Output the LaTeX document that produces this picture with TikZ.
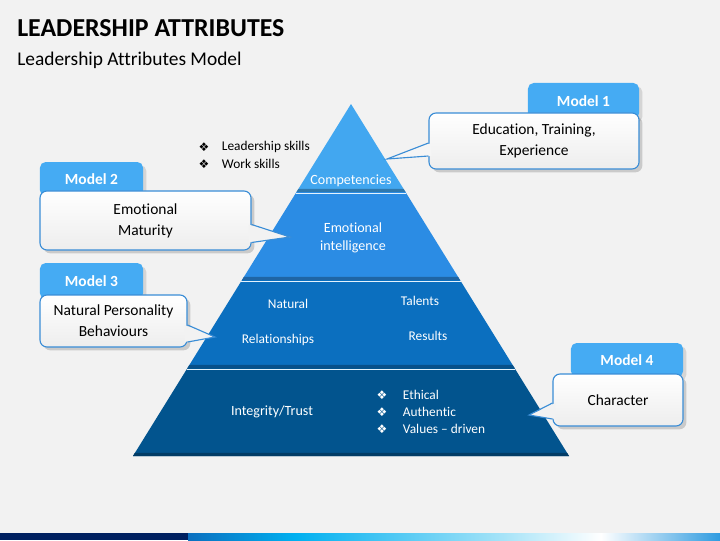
\documentclass[tikz,border=0pt]{standalone}
\usepackage{fontspec}
\setmainfont{Carlito}[Ligatures={TeX,NoCommon}]
\newfontfamily\symfont{DejaVu Sans}
\usetikzlibrary{calc,shadows}
\definecolor{pagebg}{HTML}{F2F2F2}
\definecolor{tabblue}{HTML}{45ABF3}
\definecolor{calloutblue}{HTML}{3A8DD6}
\definecolor{layA}{HTML}{42A7F0}
\definecolor{layB}{HTML}{2B8CE4}
\definecolor{layC}{HTML}{0B6FBF}
\definecolor{layD}{HTML}{02548E}
\definecolor{navy}{HTML}{002060}
\definecolor{barcyan}{HTML}{00B0F0}
\definecolor{barpale}{HTML}{A8E4F8}
\definecolor{barblue}{HTML}{2E9BE0}
\begin{document}
\begin{tikzpicture}[x=0.025cm, y=-0.025cm,
    modeltab/.style ={rounded corners=4pt, fill=tabblue, text=white,
      font=\fontsize{11}{13}\selectfont\bfseries, drop shadow={opacity=0.25}},
    modelbox/.style ={rounded corners=5pt, draw=calloutblue, line width=0.8pt,
      top color=white, bottom color=gray!14, align=center,
      font=\fontsize{11}{15}\selectfont, drop shadow={opacity=0.35}},
    pointer/.style ={draw=calloutblue, line width=0.8pt},
    laytext/.style ={text=white, align=center, font=\fontsize{10}{13}\selectfont},
    smalltext/.style ={anchor=west, font=\fontsize{9.5}{11}\selectfont},
    bulletmark/.style ={font=\symfont\fontsize{8.5}{9}\selectfont}]
   \fill[pagebg] (0,0) rectangle (720,540);
   \useasboundingbox (0,0) rectangle (720,540);
   % heading
   \node[anchor=base west, font=\fontsize{18.4}{20}\selectfont\bfseries, inner sep=0] (title) at (17,36) {LEADERSHIP ATTRIBUTES};
   \node[anchor=base west, font=\fontsize{13.8}{15}\selectfont, inner sep=0] (subtitle) at (17,65) {Leadership Attributes Model};
   % pyramid
   \coordinate (apex) at (351,104);
   \coordinate (bl) at (133,456);
   \coordinate (br) at (569,456);
   \foreach \a/\b/\col in {0/0.25/layA, 0.25/0.5/layB, 0.5/0.75/layC, 0.75/1/layD}{
     \fill[\col] ($(apex)!\a!(bl)$) -- ($(apex)!\b!(bl)$) -- ($(apex)!\b!(br)$) -- ($(apex)!\a!(br)$) -- cycle;
     \fill[\col!72!black] ($(apex)!{\b-0.009}!(bl)$) -- ($(apex)!\b!(bl)$) -- ($(apex)!\b!(br)$) -- ($(apex)!{\b-0.009}!(br)$) -- cycle;
   }
   \foreach \t in {0.25,0.5,0.75}
     \draw[white!85!layA, line width=0.7pt] ($(apex)!{\t+0.004}!(bl)$) -- ($(apex)!{\t+0.004}!(br)$);
   \node[laytext] (comp) at (351,181) {Competencies};
   \node[laytext] (emo) at (353,238) {Emotional\\intelligence};
   \node[laytext, font=\fontsize{9.5}{11}\selectfont] (nat) at (288,304) {Natural};
   \node[laytext, font=\fontsize{9.5}{11}\selectfont] (tal) at (420,301) {Talents};
   \node[laytext, font=\fontsize{9.5}{11}\selectfont] (rel) at (278,340) {Relationships};
   \node[laytext, font=\fontsize{9.5}{11}\selectfont] (res) at (428,336) {Results};
   \node[laytext] (integ) at (272,412) {Integrity/Trust};
   \foreach \t [count=\i] in {Ethical, Authentic, Values – driven}{
     \node[bulletmark, text=white] (vb\i) at (382,378+17*\i) {❖};
     \node[smalltext, text=white] (v\i) at (398,378+17*\i) {\t};
   }
   \foreach \t [count=\i] in {Leadership skills, Work skills}{
     \node[bulletmark] (sb\i) at (204,130+17*\i) {❖};
     \node[smalltext] (s\i) at (217,130+17*\i) {\t};
   }
   \coordinate (p1) at (387,159);
   \coordinate (p2) at (290,237);
   \coordinate (p3) at (215,337);
   \coordinate (p4) at (529,415);
   % Model 1
   \node[modeltab, minimum width=2.775cm, minimum height=0.9cm] (m1tab) at (583.5,101) {Model 1};
   \node[modelbox, minimum width=5.25cm, minimum height=1.4cm] (m1box) at (534,141) {Education, Training,\\Experience};
   \path (m1box.west) ++(0,2) coordinate (m1a) ++(0,13) coordinate (m1b);
   \fill[gray!8] ($(m1a)+(3,0)$) -- (p1) -- ($(m1b)+(3,0)$) -- cycle;
   \draw[pointer] (m1a) -- (p1) -- (m1b);
   % Model 2
   \node[modeltab, minimum width=2.575cm, minimum height=0.85cm] (m2tab) at (91.5,179) {Model 2};
   \node[modelbox, minimum width=5.275cm, minimum height=1.475cm] (m2box) at (145.5,220.5) {Emotional\\Maturity};
   \path (m2box.east) ++(0,4) coordinate (m2a) ++(0,18) coordinate (m2b);
   \fill[gray!10] ($(m2a)+(-3,0)$) -- (p2) -- ($(m2b)+(-3,0)$) -- cycle;
   \draw[pointer] (m2a) -- (p2) -- (m2b);
   % Model 3
   \node[modeltab, minimum width=2.575cm, minimum height=0.9cm] (m3tab) at (91.5,281) {Model 3};
   \node[modelbox, minimum width=3.675cm, minimum height=1.3cm] (m3box) at (113.5,321) {Natural Personality\\Behaviours};
   \path (m3box.east) ++(0,4) coordinate (m3a) ++(0,17) coordinate (m3b);
   \fill[gray!10] ($(m3a)+(-3,0)$) -- (p3) -- ($(m3b)+(-3,0)$) -- cycle;
   \draw[pointer] (m3a) -- (p3) -- (m3b);
   % Model 4
   \node[modeltab, minimum width=2.8cm, minimum height=0.85cm] (m4tab) at (627,360) {Model 4};
   \node[modelbox, minimum width=3.25cm, minimum height=1.3cm] (m4box) at (618,400) {Character};
   \path (m4box.west) ++(0,3) coordinate (m4a) ++(0,16) coordinate (m4b);
   \fill[gray!10] ($(m4a)+(3,0)$) -- (p4) -- ($(m4b)+(3,0)$) -- cycle;
   \draw[pointer] (m4a) -- (p4) -- (m4b);
   % bottom bar
   \fill[navy] (0,533) rectangle (188,540);
   \shade[left color=layC, right color=barcyan] (188,533) rectangle (295,540);
   \shade[left color=barcyan, right color=barpale] (295,533) rectangle (505,540);
   \shade[left color=barpale, right color=white] (505,533) rectangle (601,540);
   \shade[left color=white, right color=barblue] (601,533) rectangle (720,540);
\end{tikzpicture}
\end{document}
